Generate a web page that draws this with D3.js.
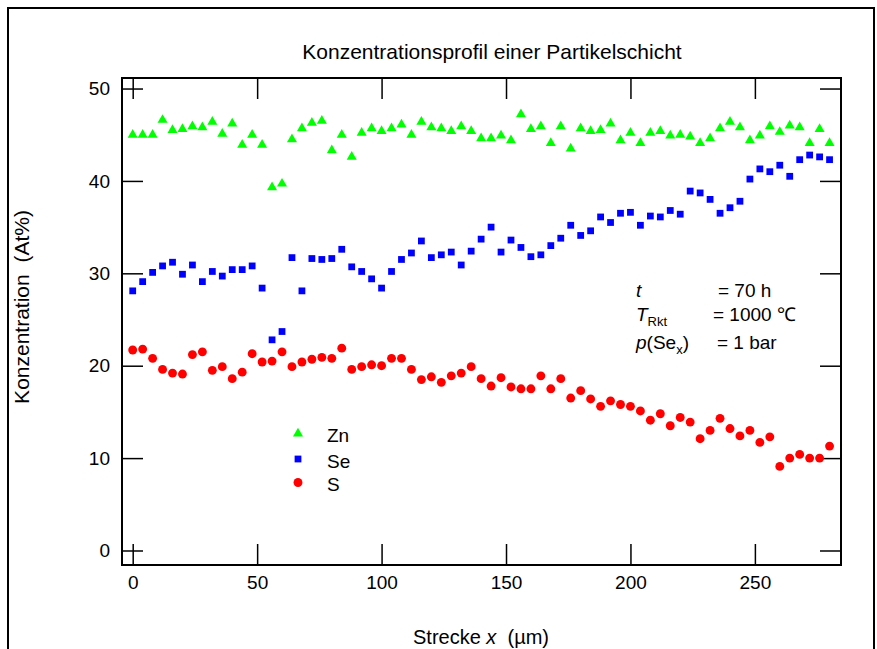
<!DOCTYPE html>
<html>
<head>
<meta charset="utf-8">
<script src="https://cdn.jsdelivr.net/npm/d3@7"></script>
<style>
  html, body { margin: 0; padding: 0; background: #fff; }
  svg { display: block; font-family: "Liberation Sans", Arial, sans-serif; }
</style>
</head>
<body>
<svg id="chart" width="877" height="649"></svg>
<script>
// Distance along the particle layer (µm)
const strecke = [0,4,8,12,16,20,24,28,32,36,40,44,48,52,56,60,64,68,72,76,80,84,88,92,96,100,
  104,108,112,116,120,124,128,132,136,140,144,148,152,156,160,164,168,172,176,180,184,188,192,196,200,
  204,208,212,216,220,224,228,232,236,240,244,248,252,256,260,264,268,272,276,280];

// Concentrations (At%)
const zn = [45.0,45.0,45.0,46.6,45.5,45.6,45.9,45.8,46.4,45.1,46.2,43.9,45.0,43.9,39.3,39.7,44.5,45.7,46.3,46.5,
  43.3,45.0,42.6,45.2,45.7,45.4,45.7,46.1,45.0,46.4,45.8,45.7,45.4,45.9,45.4,44.6,44.6,44.9,44.4,47.2,
  45.6,45.9,44.1,45.9,43.5,45.7,45.4,45.5,46.2,44.4,45.2,44.1,45.2,45.4,44.9,45.0,44.8,44.1,44.6,45.7,
  46.4,45.8,44.4,44.9,45.9,45.3,46.0,45.8,44.1,45.6,44.1];
const se = [28.1,29.1,30.1,30.8,31.2,29.9,30.9,29.1,30.2,29.7,30.4,30.4,30.8,28.4,22.8,23.7,31.7,28.1,31.6,31.5,
  31.6,32.6,30.7,30.2,29.4,28.4,30.2,31.5,32.2,33.5,31.7,32.0,32.3,30.9,32.4,33.7,35.0,32.3,33.6,32.8,
  31.8,32.0,33.0,33.8,35.2,34.1,34.6,36.1,35.5,36.5,36.6,35.2,36.2,36.1,36.8,36.4,38.9,38.7,38.0,36.5,
  37.1,37.8,40.2,41.3,41.0,41.7,40.5,42.3,42.8,42.6,42.3];
const s = [21.7,21.8,20.8,19.6,19.2,19.1,21.2,21.5,19.5,19.9,18.6,19.3,21.3,20.4,20.5,21.5,19.9,20.4,20.7,20.9,
  20.8,21.9,19.6,19.9,20.1,20.0,20.8,20.8,19.6,18.5,18.8,18.2,18.9,19.2,19.9,18.6,17.8,18.7,17.7,17.5,
  17.5,18.9,17.5,18.6,16.5,17.3,16.4,15.6,16.2,15.8,15.6,15.1,14.1,14.8,13.5,14.4,13.9,12.1,13.0,14.3,
  13.2,12.4,13.0,11.7,12.3,9.1,10.0,10.4,10.0,10.0,11.3];

const xTicks = [0, 50, 100, 150, 200, 250];
const yTicks = [0, 10, 20, 30, 40, 50];
const seriesNames = ["Zn", "Se", "S"];
const seriesColors = ["#00ff00", "#0000ff", "#ff0000"];

const svg = d3.select("#chart");
const plot = { left: 122, right: 841, top: 78, bottom: 565 };

const x = d3.scaleLinear().domain([-4.3, 284.6]).range([plot.left, plot.right]);
const y = d3.scaleLinear().domain([-1.57, 51.14]).range([plot.bottom, plot.top]);

// outer frame
svg.append("path")
  .attr("d", "M8,649 L8,8 L874,8 L874,649")
  .attr("fill", "none").attr("stroke", "#000").attr("stroke-width", 2);

// title
svg.append("text").attr("x", 492).attr("y", 59).attr("text-anchor", "middle")
  .attr("font-size", 21).text("Konzentrationsprofil einer Partikelschicht");

// axes (ticks point inward on all four sides)
const tickLen = 21;
const axisStyle = g => {
  g.selectAll(".domain").remove();
  g.selectAll(".tick line").attr("stroke", "#000").attr("stroke-width", 1.5);
  g.selectAll(".tick text").attr("font-size", 19).attr("fill", "#000")
    .attr("font-family", "'Liberation Sans', Arial, sans-serif");
};
svg.append("g").attr("transform", `translate(0,${plot.bottom})`)
  .call(d3.axisBottom(x).tickValues(xTicks).tickSizeInner(-tickLen).tickSizeOuter(0).tickPadding(11))
  .call(axisStyle);
svg.append("g").attr("transform", `translate(0,${plot.top})`)
  .call(d3.axisTop(x).tickValues(xTicks).tickSizeInner(-tickLen).tickSizeOuter(0).tickFormat(""))
  .call(axisStyle);
svg.append("g").attr("transform", `translate(${plot.left},0)`)
  .call(d3.axisLeft(y).tickValues(yTicks).tickSizeInner(-tickLen).tickSizeOuter(0).tickPadding(12))
  .call(axisStyle);
svg.append("g").attr("transform", `translate(${plot.right},0)`)
  .call(d3.axisRight(y).tickValues(yTicks).tickSizeInner(-tickLen).tickSizeOuter(0).tickFormat(""))
  .call(axisStyle);

// plot frame
svg.append("rect").attr("x", plot.left).attr("y", plot.top)
  .attr("width", plot.right - plot.left).attr("height", plot.bottom - plot.top)
  .attr("fill", "none").attr("stroke", "#000").attr("stroke-width", 2);

// axis titles
const xt = svg.append("text").attr("x", 481).attr("y", 644).attr("text-anchor", "middle")
  .attr("font-size", 20).style("white-space", "pre");
xt.append("tspan").text("Strecke ");
xt.append("tspan").attr("font-style", "italic").text("x");
xt.append("tspan").text("  (µm)");

svg.append("text").attr("transform", "translate(29,307) rotate(-90)").attr("text-anchor", "middle")
  .attr("font-size", 21).style("white-space", "pre").text("Konzentration  (At%)");

// markers
const symbols = [d3.symbolTriangle, d3.symbolSquare, d3.symbolCircle];
const symbolSizes = [44, 46, 62];
const allSeries = [zn, se, s];

allSeries.forEach((vals, k) => {
  const gen = d3.symbol().type(symbols[k]).size(symbolSizes[k]);
  svg.append("g").selectAll("path").data(vals).join("path")
    .attr("transform", (d, i) => `translate(${x(strecke[i])},${y(d)})`)
    .attr("d", gen())
    .attr("fill", seriesColors[k]);
});

// legend
const legend = svg.append("g");
seriesNames.forEach((name, k) => {
  const ly = [433.5, 459, 482.5][k];
  legend.append("path").attr("transform", `translate(298,${ly})`)
    .attr("d", d3.symbol().type(symbols[k]).size(symbolSizes[k])()).attr("fill", seriesColors[k]);
  legend.append("text").attr("x", 327).attr("y", ly + 8.5).attr("font-size", 19).text(name);
});

// experimental conditions
const ann = svg.append("g").attr("font-size", 19);
ann.append("text").attr("x", 636).attr("y", 297).attr("font-style", "italic").text("t");
ann.append("text").attr("x", 718).attr("y", 297).text("= 70 h");
const tl = ann.append("text").attr("x", 636).attr("y", 321);
tl.append("tspan").attr("font-style", "italic").text("T");
tl.append("tspan").attr("font-size", 13).attr("dy", 5).text("Rkt");
ann.append("text").attr("x", 713).attr("y", 321).text("= 1000 \u2103");
const pl = ann.append("text").attr("x", 636).attr("y", 349);
pl.append("tspan").attr("font-style", "italic").text("p");
pl.append("tspan").text("(Se");
pl.append("tspan").attr("font-size", 13).attr("dy", 5).text("x");
pl.append("tspan").attr("dy", -5).text(")");
ann.append("text").attr("x", 717).attr("y", 349).text("= 1 bar");
</script>
</body>
</html>
